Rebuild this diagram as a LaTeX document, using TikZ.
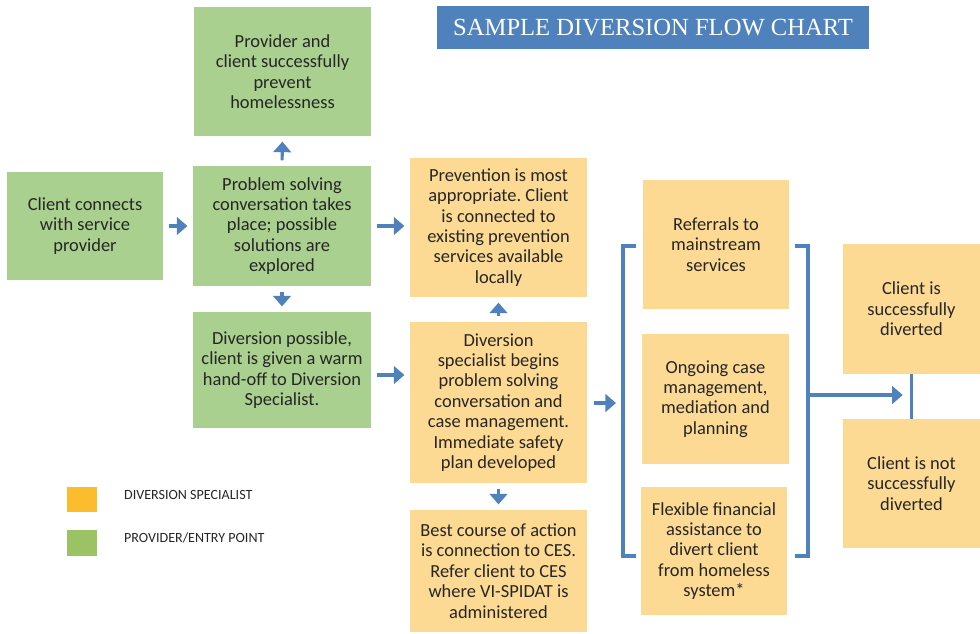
\documentclass[tikz,border=0pt]{standalone}
\usepackage{fontspec}
\setmainfont{Carlito}
\newfontfamily\titlefont{Liberation Serif}
\usepackage{tikz}
\usetikzlibrary{arrows.meta, positioning, calc}
\definecolor{provider}{HTML}{A9D08E}
\definecolor{provlegend}{HTML}{9BC264}
\definecolor{specialist}{HTML}{FDDA93}
\definecolor{speclegend}{HTML}{FBBC2E}
\definecolor{flowblue}{HTML}{4F81BD}
\definecolor{textgrey}{HTML}{262626}
\frenchspacing

\begin{document}
\begin{tikzpicture}[
    x=0.02cm, y=-0.02cm,
    entrybox/.style={
        fill=provider, text=textgrey,
        font=\fontsize{10.5}{11.6}\selectfont, align=center, inner sep=2pt
    },
    specbox/.style={
        fill=specialist, text=textgrey,
        font=\fontsize{10.5}{11.6}\selectfont, align=center, inner sep=2pt
    },
    arrow/.style={-{Triangle[length=6pt,width=10pt]}, line width=1.8pt, color=flowblue,
        shorten <=3pt, shorten >=3pt},
    bracket/.style={line width=1.8pt, color=flowblue},
    legendtext/.style={font=\fontsize{8}{9}\selectfont, text=textgrey, anchor=west}
]
\useasboundingbox (0,0) rectangle (980,633);

% Title
\node[fill=flowblue, text=white, font=\titlefont\fontsize{14}{16}\selectfont,
    minimum width=8.64cm, minimum height=0.86cm] (title) at (653,27.5) {SAMPLE DIVERSION FLOW CHART};

% Provider / entry point boxes
\node[entrybox, minimum width=3.54cm, minimum height=2.58cm] (prevented) at (282.5,71.5)
    {Provider and\\client successfully\\prevent\\homelessness};
\node[entrybox, minimum width=3.12cm, minimum height=2.16cm] (connects) at (85,226)
    {Client connects\\with service\\provider};
\node[entrybox, minimum width=3.56cm, minimum height=2.4cm] (problem) at (282,226)
    {Problem solving\\conversation takes\\place; possible\\solutions are\\explored};
\node[entrybox, minimum width=3.56cm, minimum height=2.32cm] (handoff) at (282,370)
    {Diversion possible,\\client is given a warm\\hand-off to Diversion\\Specialist.};

% Diversion specialist boxes
\node[specbox, minimum width=3.54cm, minimum height=2.78cm] (prevention) at (498.5,227.5)
    {Prevention is most\\appropriate. Client\\is connected to\\existing prevention\\services available\\locally};
\node[specbox, minimum width=3.54cm, minimum height=3.22cm] (specialist) at (498.5,402.5)
    {Diversion\\specialist begins\\problem solving\\conversation and\\case management.\\Immediate safety\\plan developed};
\node[specbox, minimum width=3.54cm, minimum height=2.44cm] (ces) at (498.5,571)
    {Best course of action\\is connection to CES.\\Refer client to CES\\where VI-SPIDAT is\\administered};

% Options
\node[specbox, minimum width=2.92cm, minimum height=2.58cm] (referrals) at (716,244.5)
    {Referrals to\\mainstream\\services};
\node[specbox, minimum width=2.94cm, minimum height=2.6cm] (casemgmt) at (715.5,399)
    {Ongoing case\\management,\\mediation and\\planning};
\node[specbox, minimum width=2.92cm, minimum height=2.56cm] (financial) at (714,551)
    {Flexible financial\\assistance to\\divert client\\from homeless\\system*};

% Outcomes
\node[specbox, minimum width=2.74cm, minimum height=2.6cm] (diverted) at (911.5,309)
    {Client is\\successfully\\diverted};
\node[specbox, minimum width=2.74cm, minimum height=2.58cm] (notdiverted) at (911.5,483.5)
    {Client is not\\successfully\\diverted};

% Brackets
\draw[bracket] (636,246) -- (623,246) -- (623,556) -- (636,556);
\draw[bracket] (795,246) -- (808,246) -- (808,556) -- (795,556);
\coordinate (lbrack) at (623,403);
\coordinate (rbrack) at (808,395);

% Arrows
\draw[arrow] (connects.east) -- (connects.east -| problem.west);
\draw[arrow] (problem.north) -- (prevented.south);
\draw[arrow] (problem.south) -- (handoff.north);
\draw[arrow] (problem.east) -- (problem.east -| prevention.west);
\draw[arrow] ([yshift=-5*0.02cm]handoff.east) -- ([yshift=-5*0.02cm]handoff.east -| specialist.west);
\draw[arrow] (specialist.north) -- (prevention.south);
\draw[arrow] (specialist.south) -- (ces.north);
\draw[arrow, shorten <=4pt, shorten >=4pt] (specialist.east |- lbrack) -- (lbrack);
\draw[arrow, shorten <=0pt, shorten >=5pt] (rbrack) -- (rbrack -| diverted.south);
\draw[bracket] (diverted.south) -- (notdiverted.north);

% Legend
\node[fill=speclegend, minimum width=0.6cm, minimum height=0.5cm, inner sep=0pt] (legspec) at (82,499.5) {};
\node[fill=provlegend, minimum width=0.6cm, minimum height=0.52cm, inner sep=0pt] (legprov) at (82,543) {};
\node[legendtext] at (118,495) {DIVERSION SPECIALIST};
\node[legendtext] at (118,538) {PROVIDER/ENTRY POINT};

\end{tikzpicture}
\end{document}
